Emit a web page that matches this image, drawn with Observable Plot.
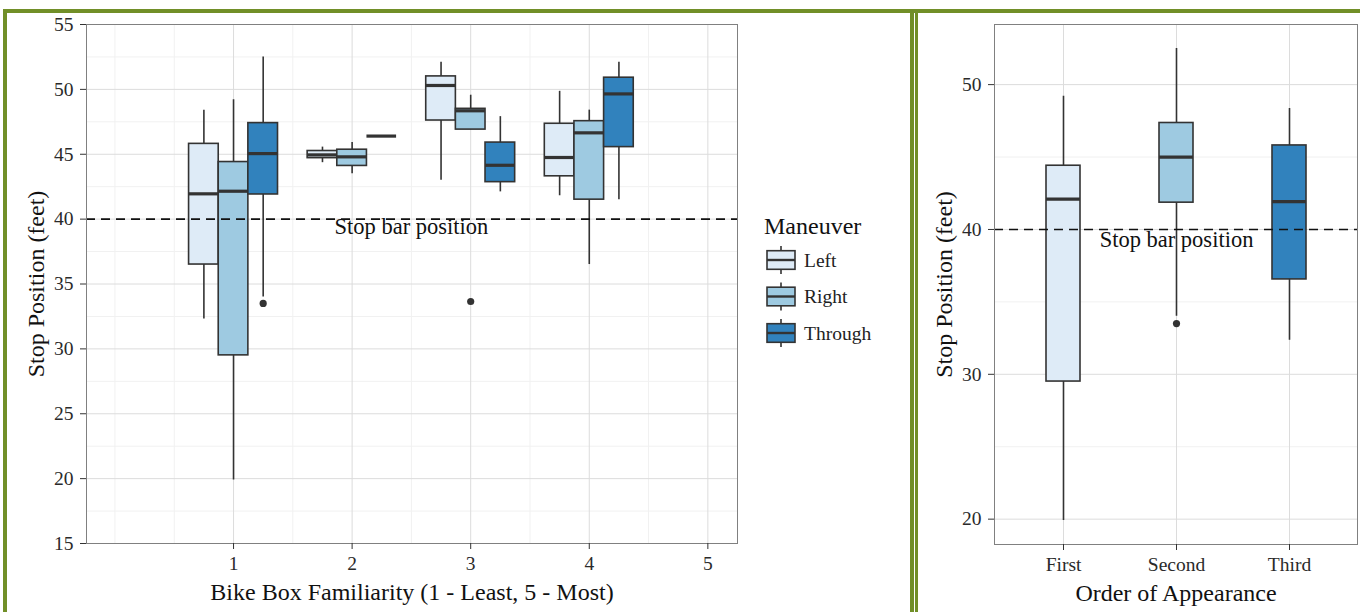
<!DOCTYPE html>
<html><head><meta charset="utf-8">
<script src="https://cdn.jsdelivr.net/npm/d3@7"></script>
<script src="https://cdn.jsdelivr.net/npm/@observablehq/plot@0.6"></script>
<style>
html,body{margin:0;padding:0;background:#fff;}
#page{position:relative;width:1360px;height:612px;overflow:hidden;background:#fff;font-family:"Liberation Serif",serif;}
.g{position:absolute;background:#718f28;}
#left{position:absolute;left:8px;top:14px;width:735px;height:598px;}
#right{position:absolute;left:918px;top:14px;width:442px;height:598px;}
#legend{position:absolute;left:755px;top:205px;width:140px;height:150px;}
svg{max-width:none !important;}
</style></head><body>
<div id="page">
 <div id="left"></div><div id="legend"></div><div id="right"></div>
 <div class="g" style="left:3px;top:9px;width:1357px;height:4px"></div>
 <div class="g" style="left:3px;top:9px;width:4px;height:603px"></div>
 <div class="g" style="left:910px;top:9px;width:3.5px;height:603px"></div>
 <div class="g" style="left:914.5px;top:9px;width:3.5px;height:603px"></div>
</div>
<script>
// ---------- data: left chart (Bike Box Familiarity) ----------
const maneuvers = ["Left", "Right", "Through"];
const familiarityTicks = [1, 2, 3, 4, 5];
const boxFamiliarity = [1, 1, 1, 2, 2, 2, 3, 3, 3, 4, 4, 4];
const boxManeuver = ["Left", "Right", "Through", "Left", "Right", "Through", "Left", "Right", "Through", "Left", "Right", "Through"];
const whiskerLow  = [32.3, 19.9, 34.0, 44.35, 43.5, 46.4, 43.0, 46.9, 42.1, 41.8, 36.5, 41.5];
const quart1      = [36.5, 29.5, 41.9, 44.7, 44.1, 46.4, 47.6, 46.9, 42.85, 43.3, 41.5, 45.55];
const medianVal   = [41.95, 42.15, 45.05, 44.95, 44.8, 46.4, 50.3, 48.35, 44.15, 44.75, 46.65, 49.65];
const quart3      = [45.8, 44.4, 47.4, 45.25, 45.35, 46.4, 51.0, 48.5, 45.9, 47.35, 47.55, 50.9];
const whiskerHigh = [48.4, 49.2, 52.5, 45.55, 45.9, 46.4, 52.1, 49.55, 47.9, 49.85, 48.4, 52.1];
const outlierFamiliarity = [1, 3];
const outlierManeuver = ["Through", "Right"];
const outlierValue = [33.5, 33.65];

// ---------- data: right chart (Order of Appearance) ----------
const orders = ["First", "Second", "Third"];
const orderLow  = [19.9, 34.0, 32.35];
const orderQ1   = [29.5, 41.85, 36.55];
const orderMed  = [42.1, 45.0, 41.92];
const orderQ3   = [44.4, 47.35, 45.8];
const orderHigh = [49.2, 52.5, 48.35];
const orderOutlierOrder = ["Second"];
const orderOutlierValue = [33.5];

// ---------- reference line & labels ----------
const stopBar = [40];
const stopBarLabel = "Stop bar position";
const leftLabelX = 2.5, leftLabelY = 39.4;
const rightLabelX = "Second", rightLabelY = 39.3;
const leftMajorY = [15, 20, 25, 30, 35, 40, 45, 50, 55];
const leftMinorY = [17.5, 22.5, 27.5, 32.5, 37.5, 42.5, 47.5, 52.5];
const leftMinorX = [0, 0.5, 1.5, 2.5, 3.5, 4.5];
const rightMajorY = [20, 30, 40, 50];
const rightMinorY = [25, 35, 45];

// ---------- styles ----------
const fills = ["#deebf7", "#9ecae1", "#3182bd"];
const ink = "#333333";
const font = "Liberation Serif";

const dodge = 0.25, half = 0.125;
const boxes = boxFamiliarity.map((f, i) => ({
  familiarity: f, maneuver: boxManeuver[i],
  lo: whiskerLow[i], q1: quart1[i], med: medianVal[i], q3: quart3[i], hi: whiskerHigh[i]
}));
const outliers = outlierFamiliarity.map((f, i) => ({familiarity: f, maneuver: outlierManeuver[i], v: outlierValue[i]}));
const pos = d => d.familiarity + (maneuvers.indexOf(d.maneuver) - 1) * dodge;

const left = Plot.plot({
  width: 735, height: 598,
  marginLeft: 78, marginRight: 6, marginTop: 10, marginBottom: 69,
  style: {fontFamily: font, background: "white", color: "#222"},
  x: {domain: [-0.24, 5.25]},
  y: {domain: [15, 55]},
  color: {domain: maneuvers, range: fills},
  marks: [
    Plot.ruleY(leftMinorY, {stroke: "#f1f1f1", strokeWidth: 1}),
    Plot.ruleX(leftMinorX, {stroke: "#f1f1f1", strokeWidth: 1}),
    Plot.ruleY(leftMajorY, {stroke: "#dcdcdc", strokeWidth: 1}),
    Plot.ruleX(familiarityTicks, {stroke: "#dcdcdc", strokeWidth: 1}),
    Plot.ruleX(boxes, {x: pos, y1: "lo", y2: "hi", stroke: ink, strokeWidth: 1.6}),
    Plot.rect(boxes, {x1: d => pos(d) - half, x2: d => pos(d) + half, y1: "q1", y2: "q3", fill: "maneuver", stroke: ink, strokeWidth: 1.6}),
    Plot.ruleY(boxes, {y: "med", x1: d => pos(d) - half, x2: d => pos(d) + half, stroke: ink, strokeWidth: 3.2}),
    Plot.dot(outliers, {x: pos, y: "v", r: 3.6, fill: ink, stroke: null}),
    Plot.ruleY(stopBar, {stroke: "#111", strokeWidth: 1.6, strokeDasharray: "9,6"}),
    Plot.text([stopBarLabel], {x: leftLabelX, y: leftLabelY, text: d => d, fontSize: 22.5, fill: "#111"}),
    Plot.frame({stroke: "#808080", strokeWidth: 1}),
    Plot.axisX({ticks: familiarityTicks, tickFormat: d => String(d), tickSize: 6, tickPadding: 7, fontSize: 19.5, label: null, stroke: ink, fill: "#2a2a2a"}),
    Plot.axisX({ticks: [], label: "Bike Box Familiarity (1 - Least, 5 - Most)", labelAnchor: "center", labelArrow: false, labelOffset: 56, fontSize: 24, fill: "#111"}),
    Plot.axisY({ticks: leftMajorY, tickFormat: d => String(d), tickSize: 6, tickPadding: 7, fontSize: 19.5, label: null, stroke: ink, fill: "#2a2a2a"}),
    Plot.axisY({ticks: [], label: "Stop Position (feet)", labelAnchor: "center", labelArrow: false, labelOffset: 60, fontSize: 24, fill: "#111"})
  ]
});
document.getElementById("left").appendChild(left);

const orderRows = orders.map((o, i) => ({order: o, lo: orderLow[i], q1: orderQ1[i], med: orderMed[i], q3: orderQ3[i], hi: orderHigh[i]}));
const orderOutliers = orderOutlierOrder.map((o, i) => ({order: o, v: orderOutlierValue[i]}));

const right = Plot.plot({
  width: 442, height: 598,
  marginLeft: 76, marginRight: 3, marginTop: 10, marginBottom: 68,
  style: {fontFamily: font, background: "white", color: "#222"},
  x: {type: "band", domain: orders, paddingInner: 0.7, paddingOuter: 0.45},
  y: {domain: [18.25, 54.15]},
  color: {domain: orders, range: fills},
  marks: [
    Plot.ruleY(rightMinorY, {stroke: "#f1f1f1", strokeWidth: 1}),
    Plot.ruleY(rightMajorY, {stroke: "#dcdcdc", strokeWidth: 1}),
    Plot.ruleX(orders, {stroke: "#dcdcdc", strokeWidth: 1}),
    Plot.ruleX(orderRows, {x: "order", y1: "lo", y2: "hi", stroke: ink, strokeWidth: 1.6}),
    Plot.barY(orderRows, {x: "order", y1: "q1", y2: "q3", fill: "order", stroke: ink, strokeWidth: 1.6}),
    Plot.tickY(orderRows, {x: "order", y: "med", stroke: ink, strokeWidth: 3.2}),
    Plot.dot(orderOutliers, {x: "order", y: "v", r: 3.6, fill: ink, stroke: null}),
    Plot.ruleY(stopBar, {stroke: "#111", strokeWidth: 1.6, strokeDasharray: "9,6"}),
    Plot.text([stopBarLabel], {x: () => rightLabelX, y: rightLabelY, text: d => d, fontSize: 22.5, fill: "#111"}),
    Plot.frame({stroke: "#808080", strokeWidth: 1}),
    Plot.axisX({tickSize: 6, tickPadding: 7, fontSize: 19.5, label: null, stroke: ink, fill: "#2a2a2a"}),
    Plot.axisX({ticks: [], label: "Order of Appearance", labelAnchor: "center", labelArrow: false, labelOffset: 56, fontSize: 24, fill: "#111"}),
    Plot.axisY({ticks: rightMajorY, tickFormat: d => String(d), tickSize: 6, tickPadding: 7, fontSize: 19.5, label: null, stroke: ink, fill: "#2a2a2a"}),
    Plot.axisY({ticks: [], label: "Stop Position (feet)", labelAnchor: "center", labelArrow: false, labelOffset: 60, fontSize: 24, fill: "#111"})
  ]
});
document.getElementById("right").appendChild(right);

// ---------- legend ----------
const lg = d3.create("svg").attr("width", 140).attr("height", 150)
  .style("font-family", font).style("overflow", "visible");
lg.append("text").attr("x", 9).attr("y", 29).attr("font-size", 24).attr("fill", "#111").text("Maneuver");
maneuvers.forEach((m, i) => {
  const cy = 55 + i * 36.5, g = lg.append("g");
  g.append("line").attr("x1", 26).attr("x2", 26).attr("y1", cy - 14).attr("y2", cy + 14).attr("stroke", ink).attr("stroke-width", 1.6);
  g.append("rect").attr("x", 12).attr("y", cy - 9.3).attr("width", 28).attr("height", 18.6)
    .attr("fill", fills[i]).attr("stroke", ink).attr("stroke-width", 1.6);
  g.append("line").attr("x1", 12).attr("x2", 40).attr("y1", cy).attr("y2", cy).attr("stroke", ink).attr("stroke-width", 2.4);
  g.append("text").attr("x", 49).attr("y", cy).attr("dy", "0.35em").attr("font-size", 19.5).attr("fill", "#222").text(m);
});
document.getElementById("legend").appendChild(lg.node());
</script>
</body></html>
